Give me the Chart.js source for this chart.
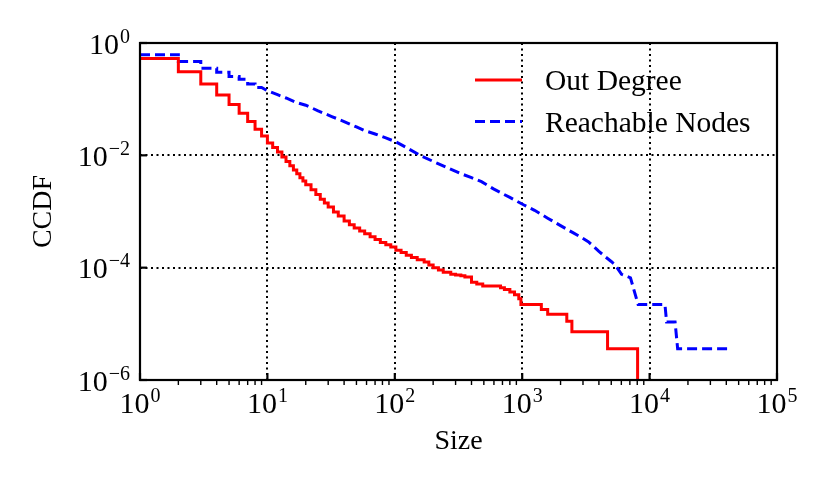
<!DOCTYPE html>
<html>
<head>
<meta charset="utf-8">
<script src="https://cdn.jsdelivr.net/npm/chart.js@4.4.1/dist/chart.umd.min.js"></script>
<style>
  html, body { margin: 0; padding: 0; background: #fff; }
</style>
</head>
<body>
<canvas id="ccdfChart" width="830" height="489"></canvas>
<script>
// Out Degree CCDF (step starts)
const outSize = [1, 2, 3, 4, 5, 6, 7, 8, 9, 10, 11, 12, 13, 14, 15, 16, 17, 18, 19, 20,
  22, 24, 26, 28, 30, 33, 36, 40, 44, 48, 53, 58, 64, 70, 77, 85, 93, 102, 112, 123,
  135, 150, 170, 185, 200, 220, 240, 275, 300, 330, 355, 400, 440, 490, 676, 725, 800, 870, 940, 977,
  1413, 1585, 2239, 2455, 4677, 8050];
const outCcdf = [0.53, 0.307, 0.186, 0.119, 0.080, 0.056, 0.040, 0.029, 0.022, 0.0166,
  0.0138, 0.0115, 0.0093, 0.0078, 0.0065, 0.0055, 0.0047, 0.0040, 0.0035, 0.0030,
  0.00245, 0.0020, 0.00166, 0.00141, 0.0012, 0.00098, 0.00083, 0.00068, 0.00058, 0.00051,
  0.00045, 0.0004, 0.000355, 0.000316, 0.000282, 0.000257, 0.000234, 0.000204, 0.000186, 0.000166,
  0.000151, 0.000138, 0.000126, 0.000112, 0.0001, 0.000091, 0.000083, 0.000076, 0.000074, 0.000072,
  0.000068, 0.000055, 0.000051, 0.000047, 0.000044, 0.000041, 0.000037, 0.000033, 0.000028, 0.000022,
  0.000018, 0.0000148, 0.0000111, 0.0000072, 0.0000036, 1e-7];

// Reachable Nodes CCDF (corners included where the steps show)
const reachSize = [1, 2, 2, 3, 3, 4, 4, 5, 5, 6, 6, 7, 7, 8, 8, 9, 10, 12, 14, 17,
  20, 25, 32, 40, 50, 58, 70, 85, 102, 125, 158, 200, 250, 324, 400, 479, 600, 800, 1023, 1250,
  1585, 2000, 2500, 2884, 3300, 3630, 4000, 4467, 5000, 5370, 6026, 7079, 8128, 13200, 13600, 15850,
  16600, 41000];
const reachCcdf = [0.62, 0.62, 0.467, 0.467, 0.356, 0.356, 0.30, 0.30, 0.253, 0.253,
  0.227, 0.227, 0.186, 0.186, 0.162, 0.162, 0.141, 0.120, 0.105, 0.087,
  0.078, 0.062, 0.049, 0.040, 0.032, 0.0275, 0.024, 0.0204, 0.0174, 0.0135,
  0.010, 0.0078, 0.0062, 0.0048, 0.004, 0.0034, 0.0025, 0.00178, 0.00132, 0.00105,
  0.00076, 0.00056, 0.00042, 0.00035, 0.00029, 0.00024, 0.000195, 0.000158, 0.000129, 0.000112,
  0.000076, 0.000066, 0.000022, 0.000022, 0.0000108, 0.0000108, 0.0000036, 0.0000036];

const xTickExps = [0, 1, 2, 3, 4, 5];
const yTickExps = [0, -2, -4, -6];

const SERIF = '"Liberation Serif", "Times New Roman", serif';

function toPoints(xs, ys) {
  return xs.map((x, i) => ({ x, y: ys[i] }));
}

function drawPower(ctx, exp, px, baseY, align) {
  const base = '10';
  const sup = exp < 0 ? '\u2212' + (-exp) : String(exp);
  ctx.font = '30px ' + SERIF;
  const wBase = ctx.measureText(base).width;
  ctx.font = '20px ' + SERIF;
  const wSup = ctx.measureText(sup).width;
  const total = wBase + 1 + wSup;
  const left = align === 'center' ? px - total / 2 : px - total;
  ctx.font = '30px ' + SERIF;
  ctx.fillText(base, left, baseY);
  ctx.font = '20px ' + SERIF;
  ctx.fillText(sup, left + wBase + 1, baseY - 11);
}

// ticks, frame, tick labels and legend
const decorPlugin = {
  id: 'decor',
  afterDraw(chart) {
    const { ctx, chartArea: a, scales: { x, y } } = chart;
    ctx.save();
    ctx.strokeStyle = '#000';
    ctx.fillStyle = '#000';
    ctx.setLineDash([]);

    // minor x ticks, outward
    ctx.lineWidth = 1.4;
    for (let e = 0; e < 5; e++) {
      for (let m = 2; m < 10; m++) {
        const px = x.getPixelForValue(m * 10 ** e);
        ctx.beginPath();
        ctx.moveTo(px, a.bottom);
        ctx.lineTo(px, a.bottom + 5);
        ctx.stroke();
      }
    }
    // major ticks, inward
    ctx.lineWidth = 2.2;
    xTickExps.forEach((e) => {
      const px = x.getPixelForValue(10 ** e);
      ctx.beginPath();
      ctx.moveTo(px, a.bottom);
      ctx.lineTo(px, a.bottom - 7);
      ctx.stroke();
    });
    yTickExps.forEach((e) => {
      const py = y.getPixelForValue(10 ** e);
      ctx.beginPath();
      ctx.moveTo(a.left, py);
      ctx.lineTo(a.left + 7, py);
      ctx.stroke();
    });

    // frame
    ctx.lineWidth = 2.2;
    ctx.strokeRect(a.left, a.top, a.right - a.left, a.bottom - a.top);

    // tick labels
    ctx.textBaseline = 'alphabetic';
    ctx.textAlign = 'left';
    xTickExps.forEach((e) => {
      drawPower(ctx, e, x.getPixelForValue(10 ** e), a.bottom + 33, 'center');
    });
    yTickExps.forEach((e) => {
      drawPower(ctx, e, a.left - 10, y.getPixelForValue(10 ** e) + 10.5, 'right');
    });

    // legend
    const lx = 475;
    let ly = 80;
    chart.data.datasets.forEach((ds) => {
      ctx.strokeStyle = ds.borderColor;
      ctx.lineWidth = ds.borderWidth;
      ctx.setLineDash(ds.borderDash || []);
      ctx.beginPath();
      ctx.moveTo(lx, ly);
      ctx.lineTo(lx + 47, ly);
      ctx.stroke();
      ctx.setLineDash([]);
      ctx.font = '29.5px ' + SERIF;
      ctx.fillText(ds.label, lx + 70, ly + 10);
      ly += 41.5;
    });
    ctx.restore();
  },
};

new Chart(document.getElementById('ccdfChart').getContext('2d'), {
  type: 'line',
  data: {
    datasets: [{
      label: 'Out Degree',
      data: toPoints(outSize, outCcdf),
      borderColor: '#ff0000',
      borderWidth: 3,
      pointRadius: 0,
      stepped: true,
      fill: false,
    }, {
      label: 'Reachable Nodes',
      data: toPoints(reachSize, reachCcdf),
      borderColor: '#0000ff',
      borderWidth: 3,
      borderDash: [10, 5],
      pointRadius: 0,
      tension: 0,
      fill: false,
    }],
  },
  options: {
    responsive: false,
    animation: false,
    devicePixelRatio: 1,
    layout: { padding: { top: 43, right: 53, left: 0, bottom: 0 } },
    plugins: {
      legend: { display: false },
      tooltip: { enabled: false },
    },
    scales: {
      x: {
        type: 'logarithmic',
        min: 1,
        max: 1e5,
        afterBuildTicks: (s) => { s.ticks = xTickExps.map((e) => ({ value: 10 ** e })); },
        afterFit: (s) => { s.height = 109; },
        ticks: { display: false },
        grid: { color: '#000', lineWidth: 2, drawTicks: false },
        border: { display: false, dash: [2, 3.5] },
        title: {
          display: true,
          text: 'Size',
          color: '#000',
          font: { family: SERIF, size: 28 },
          padding: { top: 0, bottom: 31 },
        },
      },
      y: {
        type: 'logarithmic',
        min: 1e-6,
        max: 1,
        afterBuildTicks: (s) => { s.ticks = yTickExps.map((e) => ({ value: 10 ** e })); },
        afterFit: (s) => { s.width = 140; },
        ticks: { display: false },
        grid: { color: '#000', lineWidth: 2, drawTicks: false },
        border: { display: false, dash: [2, 3.5] },
        title: {
          display: true,
          text: 'CCDF',
          color: '#000',
          font: { family: SERIF, size: 28 },
          padding: { top: 27, bottom: 0 },
        },
      },
    },
  },
  plugins: [decorPlugin],
});
</script>
</body>
</html>
